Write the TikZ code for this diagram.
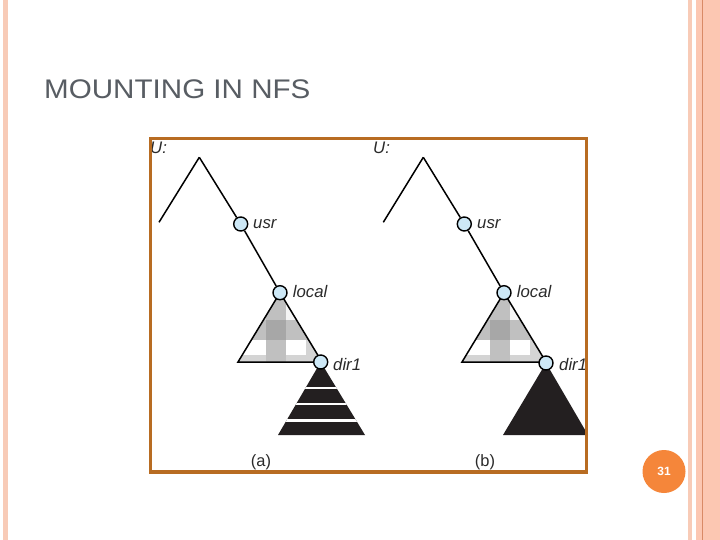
\documentclass[tikz,border=0pt]{standalone}
\usepackage{fontspec}
\newfontfamily\arial{Liberation Sans}
\definecolor{frameC}{HTML}{B86C22}
\definecolor{nodeC}{HTML}{CDE8F6}
\definecolor{titleC}{HTML}{585D63}
\definecolor{stripC}{HTML}{F8CBB7}
\definecolor{salmonC}{HTML}{FCC7B2}
\definecolor{lineC}{HTML}{D98A66}
\definecolor{badgeC}{HTML}{F5863A}
\definecolor{blk}{HTML}{231F20}
\definecolor{txtC}{HTML}{2A2A2A}
\definecolor{gL}{HTML}{D4D4D4}
\definecolor{gM}{HTML}{C0C0C0}
\definecolor{gD}{HTML}{A7A7A7}
\begin{document}
\begin{tikzpicture}[x=1bp,y=-1bp,
 treeline/.style={line width=1.5bp, draw=black},
 dirnode/.style={circle, draw=black, line width=1.4bp, fill=nodeC, minimum size=14bp, inner sep=0pt},
 lbl/.style={font=\arial\itshape\fontsize{16.8}{17}\selectfont, text=txtC, anchor=base west, inner sep=0pt},
 figcap/.style={font=\arial\fontsize{16.5}{17}\selectfont, text=txtC, anchor=base, inner sep=0pt},
 stripe/.style={white, line width=2.2bp}
]
\useasboundingbox (0,0) rectangle (720,540);
\fill[white] (0,0) rectangle (720,540);
% side strips
\fill[stripC] (3,0) rectangle (8,540);
\fill[stripC] (688,0) rectangle (692,540);
\fill[salmonC] (696,0) rectangle (720,540);
\draw[lineC, line width=1bp] (702.5,0) -- (702.5,540);
% title
\node[anchor=base west, inner sep=0pt, text=titleC, font=\arial\fontsize{27}{27}\selectfont] (title) at (44,98.5) {\scalebox{1.1}[1]{MOUNTING IN NFS}};
% page badge
\node[circle, fill=badgeC, minimum size=43bp, inner sep=0pt, text=white, font=\arial\bfseries\fontsize{12}{12}\selectfont] (page) at (664,471.5) {31};

% ---------- tree (a) ----------
\coordinate (apexA) at (199.3,157.3);
\coordinate (leftA) at (159,222.3);
\coordinate (usrAc) at (240.7,224);
\coordinate (locAc) at (280,292.7);
\coordinate (dirAc) at (320.7,362);
% gray plaid triangle
\begin{scope}
\clip (locAc) -- (238,362) -- (322,362) -- cycle;
\fill[gL] (230,285) rectangle (330,365);
\fill[white!92!gray] (285.7,285) rectangle (306,320);
\fill[white] (230,340) rectangle (265.7,355);
\fill[white] (285.7,340) rectangle (306,355);
\fill[gM] (265.7,285) rectangle (285.7,365);
\fill[gM] (230,320) rectangle (330,340);
\fill[gD] (265.7,320) rectangle (285.7,340);
\end{scope}
\draw[treeline, line join=miter] (locAc) -- (238,362) -- (322,362) -- cycle;
% black striped triangle
\begin{scope}
\clip (dirAc) -- (278,435) -- (365,435) -- cycle;
\fill[blk] (270,355) rectangle (370,436);
\draw[stripe] (270,388) -- (370,388);
\draw[stripe] (270,404) -- (370,404);
\draw[stripe] (270,420.5) -- (370,420.5);
\end{scope}
\node[dirnode] (usrA) at (usrAc) {};
\node[dirnode] (locA) at (locAc) {};
\node[dirnode] (dirA) at (dirAc) {};
\draw[treeline] (apexA) -- (leftA);
\draw[treeline] (apexA) -- (usrA);
\draw[treeline] (usrA) -- (locA);
\node[lbl] (UA) at (150,154) {U:};
\node[lbl] (usrAl) at (253,229) {usr};
\node[lbl] (locAl) at (292.7,297) {local};
\node[lbl] (dirAl) at (333,370) {dir1};
\node[figcap] (capA) at (261,466.5) {(a)};

% ---------- tree (b) ----------
\coordinate (apexB) at (423.3,157.3);
\coordinate (leftB) at (383.3,222.3);
\coordinate (usrBc) at (464.3,224);
\coordinate (locBc) at (504,292.7);
\coordinate (dirBc) at (546,363);
\begin{scope}[xshift=224bp]
\begin{scope}
\clip (280,292.7) -- (238,362) -- (322,362) -- cycle;
\fill[gL] (230,285) rectangle (330,365);
\fill[white!92!gray] (285.7,285) rectangle (306,320);
\fill[white] (230,340) rectangle (265.7,355);
\fill[white] (285.7,340) rectangle (306,355);
\fill[gM] (265.7,285) rectangle (285.7,365);
\fill[gM] (230,320) rectangle (330,340);
\fill[gD] (265.7,320) rectangle (285.7,340);
\end{scope}
\draw[treeline, line join=miter] (280,292.7) -- (238,362) -- (322,362) -- cycle;
\end{scope}
\fill[blk] (dirBc) -- (503,435) -- (588,435) -- cycle;
\node[dirnode] (usrB) at (usrBc) {};
\node[dirnode] (locB) at (locBc) {};
\node[dirnode] (dirB) at (dirBc) {};
\draw[treeline] (apexB) -- (leftB);
\draw[treeline] (apexB) -- (usrB);
\draw[treeline] (usrB) -- (locB);
\node[lbl] (UB) at (373,154) {U:};
\node[lbl] (usrBl) at (477,229) {usr};
\node[lbl] (locBl) at (516.7,297) {local};
\node[lbl] (dirBl) at (559,370) {dir1};
\node[figcap] (capB) at (485,466.5) {(b)};

% frame
\draw[frameC, line width=3.5bp] (150.5,138.5) rectangle (586.5,472);
\end{tikzpicture}
\end{document}
